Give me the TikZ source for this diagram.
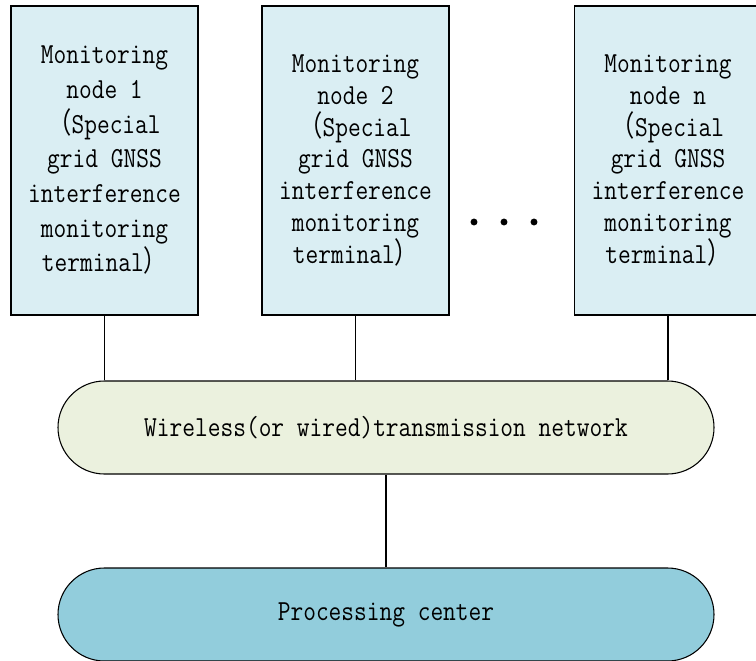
\documentclass[tikz,border=0pt]{standalone}
\usepackage{fontspec}
\newfontfamily\labelfont[FakeStretch=0.85]{Latin Modern Mono}
\newfontfamily\cjkfont[FakeStretch=0.8]{Noto Sans CJK SC}
\usepackage{tikz}
\usetikzlibrary{positioning, shapes.misc}
\definecolor{nodeblue}{HTML}{DAEEF3}
\definecolor{netgreen}{HTML}{EBF1DE}
\definecolor{procblue}{HTML}{92CDDC}
\newcommand{\lpar}{{\cjkfont （}}
\newcommand{\rpar}{{\cjkfont ）}}

\begin{document}
\begin{tikzpicture}[x=0.75pt, y=-0.75pt,
    monbox/.style={draw, line width=0.8pt, fill=nodeblue, minimum width=140.25pt,
                   minimum height=231.75pt, align=center, inner sep=0pt},
    pill/.style={draw, line width=0.8pt, rounded rectangle, minimum width=492pt,
                 minimum height=69.75pt, inner sep=0pt},
    lnk/.style={line width=0.8pt},
    txt/.style={font=\labelfont\fontsize{21.8}{#1}\selectfont},
  ]
    \useasboundingbox (0,0) rectangle (756,660);

    % === Monitoring nodes (top row) ===
    \node[monbox, txt=26pt] (mon1) at (104.5,160.5)
      {Monitoring\\node 1\\\lpar Special\\grid GNSS\\interference\\monitoring\\terminal\rpar};
    \node[monbox, txt=23.8pt] (mon2) at (355.5,160.5)
      {Monitoring\\node 2\\\lpar Special\\grid GNSS\\interference\\monitoring\\terminal\rpar};
    \node[monbox, txt=23.8pt] (monn) at (668,160.5)
      {Monitoring\\node n\\\lpar Special\\grid GNSS\\interference\\monitoring\\terminal\rpar};

    % ellipsis between node 2 and node n
    \foreach \x in {474,504,534}
      \fill (\x,222) circle (2.6pt);

    % === Network and processing center ===
    \node[pill, fill=netgreen, txt=20pt] (net) at (386,427.5)
      {Wireless(or wired)transmission network};
    \node[pill, fill=procblue, txt=20pt] (proc) at (386,614.5)
      {Processing center};

    % === Links ===
    \draw[lnk] (mon1.south) -- (mon1.south |- net.north);
    \draw[lnk] (mon2.south) -- (mon2.south |- net.north);
    \draw[lnk] (monn.south) -- (monn.south |- net.north);
    \draw[lnk] (net.south) -- (proc.north);
  \end{tikzpicture}
\end{document}
